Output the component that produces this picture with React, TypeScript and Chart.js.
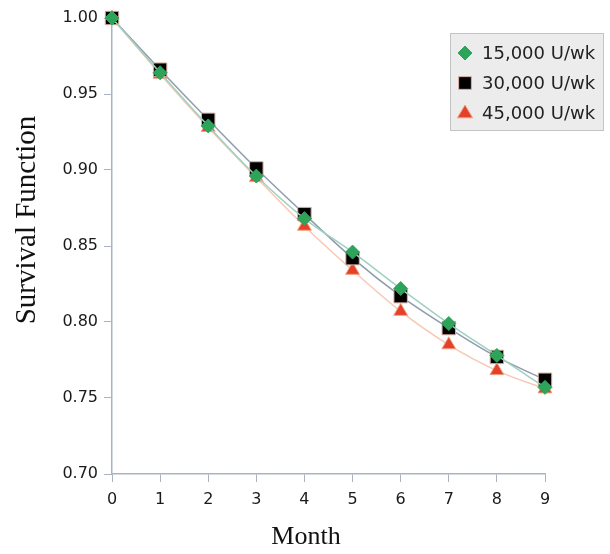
import React, { useEffect, useRef } from "react";
import { Chart, registerables } from "chart.js";

Chart.register(...registerables);

const months = [0, 1, 2, 3, 4, 5, 6, 7, 8, 9];
const series15000 = [1.0, 0.964, 0.929, 0.896, 0.868, 0.846, 0.822, 0.799, 0.778, 0.757];
const series30000 = [1.0, 0.966, 0.933, 0.901, 0.871, 0.842, 0.817, 0.796, 0.777, 0.762];
const series45000 = [1.0, 0.963, 0.928, 0.895, 0.863, 0.834, 0.807, 0.785, 0.768, 0.756];
const seriesLabels = ["15,000 U/wk", "30,000 U/wk", "45,000 U/wk"];
const yTicks = [0.7, 0.75, 0.8, 0.85, 0.9, 0.95, 1.0];
const xTitle = "Month";
const yTitle = "Survival Function";

const AXIS = "#a9b3c2";

function drawMarker(ctx: CanvasRenderingContext2D, style: string, x: number, y: number, r: number) {
  ctx.beginPath();
  if (style === "rect") {
    const s = Math.SQRT1_2 * r;
    ctx.rect(x - s, y - s, 2 * s, 2 * s);
  } else if (style === "rectRot") {
    ctx.moveTo(x, y - r);
    ctx.lineTo(x + r, y);
    ctx.lineTo(x, y + r);
    ctx.lineTo(x - r, y);
    ctx.closePath();
  } else {
    ctx.moveTo(x, y - r);
    ctx.lineTo(x + r * 0.95, y + r * 0.6);
    ctx.lineTo(x - r * 0.95, y + r * 0.6);
    ctx.closePath();
  }
  ctx.fill();
  ctx.stroke();
}

const decorPlugin = {
  id: "decor",
  afterDraw(chart: any) {
    const ctx = chart.ctx;
    ctx.save();
    // axis titles
    ctx.fillStyle = "#111";
    ctx.textAlign = "center";
    ctx.textBaseline = "middle";
    ctx.font = '26px "Liberation Serif"';
    ctx.fillText(xTitle, 306, 537);
    ctx.save();
    ctx.translate(27, 220);
    ctx.rotate(-Math.PI / 2);
    ctx.font = '29px "Liberation Serif"';
    ctx.fillText(yTitle, 0, 0);
    ctx.restore();

    // legend box
    const x0 = 450, y0 = 33, w = 154, h = 98;
    ctx.fillStyle = "#ececec";
    ctx.strokeStyle = "#c4c4c4";
    ctx.lineWidth = 1;
    ctx.fillRect(x0, y0, w, h);
    ctx.strokeRect(x0 + 0.5, y0 + 0.5, w - 1, h - 1);
    chart.data.datasets.forEach((ds: any, i: number) => {
      const cy = y0 + 20 + i * 30;
      const r = ds.pointStyle === "rect" ? 9 : ds.pointStyle === "triangle" ? 8 : 7;
      ctx.fillStyle = ds.pointBackgroundColor;
      ctx.strokeStyle = ds.pointBorderColor;
      ctx.lineWidth = 1;
      drawMarker(ctx, ds.pointStyle, 465, cy, r);
      ctx.fillStyle = "#222";
      ctx.font = '18px "DejaVu Sans"';
      ctx.textBaseline = "middle";
      ctx.textAlign = "left";
      ctx.fillText(seriesLabels[i], 482, cy + 1);
    });
    ctx.restore();
  },
};

export default function App() {
  const ref = useRef<HTMLCanvasElement>(null);
  useEffect(() => {
    document.body.style.margin = "0";
    const chart = new Chart(ref.current!, {
      type: "line",
      data: {
        labels: months,
        datasets: [
          {
            label: seriesLabels[0],
            data: series15000,
            borderColor: "#9fd0c0",
            borderWidth: 1.5,
            pointStyle: "rectRot",
            pointRadius: 7,
            pointBackgroundColor: "#2ea35a",
            pointBorderColor: "#2ea35a",
            pointBorderWidth: 1,
            cubicInterpolationMode: "monotone",
            clip: false,
          } as any,
          {
            label: seriesLabels[1],
            data: series30000,
            borderColor: "#8e9cae",
            borderWidth: 1.5,
            pointStyle: "rect",
            pointRadius: 9.5,
            pointBackgroundColor: "#000000",
            pointBorderColor: "#d8b0a0",
            pointBorderWidth: 1,
            cubicInterpolationMode: "monotone",
            clip: false,
          } as any,
          {
            label: seriesLabels[2],
            data: series45000,
            borderColor: "#f7c9b4",
            borderWidth: 1.5,
            pointStyle: "triangle",
            pointRadius: 8,
            pointBackgroundColor: "#e4412b",
            pointBorderColor: "#f0a080",
            pointBorderWidth: 1,
            cubicInterpolationMode: "monotone",
            clip: false,
          } as any,
        ],
      },
      options: {
        responsive: false,
        animation: false,
        layout: { padding: { top: 18, right: 65, left: 0, bottom: 0 } },
        plugins: { legend: { display: false }, tooltip: { enabled: false } },
        scales: {
          x: {
            type: "linear",
            min: 0,
            max: 9,
            afterFit: (s: any) => {
              s.height = 80;
            },
            ticks: {
              stepSize: 1,
              color: "#1a1a1a",
              font: { family: "DejaVu Sans", size: 16 },
              padding: 8,
            },
            grid: {
              display: true,
              drawOnChartArea: false,
              drawTicks: true,
              tickLength: 8,
              color: AXIS,
            },
            border: { color: AXIS, width: 1.5 },
          },
          y: {
            min: 0.7,
            max: 1.0,
            afterFit: (s: any) => {
              s.width = 112;
            },
            afterBuildTicks: (s: any) => {
              s.ticks = yTicks.map((v) => ({ value: v }));
            },
            ticks: {
              color: "#1a1a1a",
              font: { family: "DejaVu Sans", size: 16 },
              padding: 6,
              callback: (v: any) => Number(v).toFixed(2),
            },
            grid: {
              display: true,
              drawOnChartArea: false,
              drawTicks: true,
              tickLength: 8,
              color: AXIS,
            },
            border: { color: AXIS, width: 1.5 },
          },
        },
      },
      plugins: [decorPlugin],
    });
    return () => chart.destroy();
  }, []);
  return <canvas ref={ref} width={610} height={554} style={{ display: "block" }} />;
}
